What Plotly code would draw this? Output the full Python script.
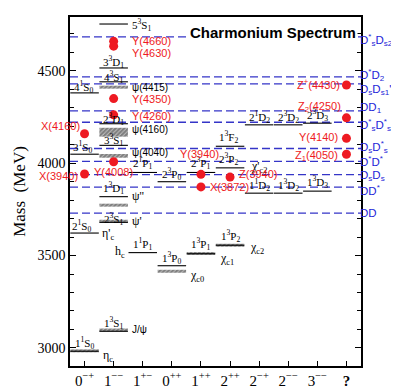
import plotly.graph_objects as go

# ---------------- data ----------------
jpc_labels = ["0<sup>−+</sup>", "1<sup>−−</sup>", "1<sup>+−</sup>", "0<sup>++</sup>", "1<sup>++</sup>",
              "2<sup>++</sup>", "2<sup>−+</sup>", "2<sup>−−</sup>", "3<sup>−−</sup>", "<b>?</b>"]

# predicted (potential-model) levels
pred_col = [0, 0, 0, 0, 1, 1, 1, 1, 1, 1, 1, 1, 2, 2, 3, 3, 4, 4, 5, 5, 5, 6, 6, 7, 7, 8, 8]
pred_mass = [2982, 3622, 4049, 4381, 3090, 3680, 3819, 4097, 4214, 4441, 4516, 4754,
             3516, 3950, 3445, 3900, 3510, 3950, 3556, 3975, 4092, 3838, 4208, 3838, 4208, 3849, 4217]
pred_name = ["1<sup>1</sup>S<sub>0</sub>", "2<sup>1</sup>S<sub>0</sub>", "3<sup>1</sup>S<sub>0</sub>", "4<sup>1</sup>S<sub>0</sub>",
             "1<sup>3</sup>S<sub>1</sub>", "2<sup>3</sup>S<sub>1</sub>", "1<sup>3</sup>D<sub>1</sub>", "3<sup>3</sup>S<sub>1</sub>",
             "2<sup>3</sup>D<sub>1</sub>", "4<sup>3</sup>S<sub>1</sub>", "3<sup>3</sup>D<sub>1</sub>", "5<sup>3</sup>S<sub>1</sub>",
             "1<sup>1</sup>P<sub>1</sub>", "2<sup>1</sup>P<sub>1</sub>", "1<sup>3</sup>P<sub>0</sub>", "2<sup>3</sup>P<sub>0</sub>",
             "1<sup>3</sup>P<sub>1</sub>", "2<sup>3</sup>P<sub>1</sub>", "1<sup>3</sup>P<sub>2</sub>", "2<sup>3</sup>P<sub>2</sub>",
             "1<sup>3</sup>F<sub>2</sub>", "1<sup>1</sup>D<sub>2</sub>", "2<sup>1</sup>D<sub>2</sub>", "1<sup>3</sup>D<sub>2</sub>",
             "2<sup>3</sup>D<sub>2</sub>", "1<sup>3</sup>D<sub>3</sub>", "2<sup>3</sup>D<sub>3</sub>"]

# observed conventional charmonia (hatched bands)
exp_col = [0, 1, 1, 1, 1, 1, 1, 3, 4, 5]
exp_mass = [2984, 3097, 3686, 3773, 4040, 4168, 4412, 3415, 3511, 3556]
exp_band = [16, 16, 16, 16, 20, 48, 16, 16, 16, 16]

# state names
name_text = ["η<sub>c</sub>", "J/ψ", "ψ'", "ψ''", "ψ(4040)", "ψ(4160)", "ψ(4415)",
             "χ<sub>c0</sub>", "χ<sub>c1</sub>", "χ<sub>c2</sub>", "η'<sub>c</sub>", "h<sub>c</sub>", "χ'<sub>c2</sub>"]
name_col = [0, 1, 1, 1, 1, 1, 1, 3, 4, 5, 0, 2, 5]
name_mass = [2984, 3097, 3686, 3773, 4040, 4168, 4412, 3415, 3511, 3556, 3622, 3516, 3975]

# XYZ states
dot_col = [0, 0, 1, 1, 1, 1, 1, 4, 4, 5, 9, 9, 9, 9]
dot_mass = [4160, 3942, 4660, 4634, 4350, 4262, 4008, 3940, 3872, 3925, 4424, 4246, 4135, 4049]
dot_name = ["X(4160)", "X(3940)", "Y(4660)", "Y(4630)", "Y(4350)", "Y(4260)", "Y(4008)", "Y(3940)",
            "X(3872)", "Z(3940)", "Z<sup>+</sup>(4430)", "Z<sub>2</sub>(4250)", "Y(4140)", "Z<sub>1</sub>(4050)"]

# open-charm thresholds
thr_mass = [4684, 4468, 4430, 4284, 4222, 4080, 4010, 3938, 3871, 3730]
thr_name = ["D<sup>*</sup><sub>s</sub>D<sub>s2</sub>", "D<sup>*</sup>D<sub>2</sub>", "D<sub>s</sub>D<sub>s1</sub>'",
            "DD<sub>1</sub>", "D<sup>*</sup><sub>s</sub>D<sup>*</sup><sub>s</sub>", "D<sub>s</sub>D<sup>*</sup><sub>s</sub>",
            "D<sup>*</sup>D<sup>*</sup>", "D<sub>s</sub>D<sub>s</sub>", "DD<sup>*</sup>", "DD"]

# ---------------- styling ----------------
XR = [-0.5, 9.5]
YR = [2902, 4792]
HALF = 0.49
SERIF = "Liberation Serif"
SANS = "Liberation Sans"
BLUE_LINE = "#3535c8"
BLUE_TXT = "#2424d8"
RED = "#ee1a22"

# label pixel offsets (dx, dy) for level labels
pred_off = {1: (-3, 7), 2: (-2, 7), 3: (-1, 6), 5: (0, 3), 6: (0, 9), 7: (0, 5), 8: (0, 5),
            9: (0, 5), 10: (0, 6), 12: (0, 9), 13: (0, 9), 16: (0, 10), 17: (0, 9),
            18: (0, 9), 19: (-2, 9), 20: (-2, 9), 25: (0, 9), 26: (0, 8)}
# name placement: (xanchor, dx, dy)
name_pos = [("left", 2, -5), ("left", 2, 0), ("left", 2, 0), ("left", 2, 9), ("left", 2, 3),
            ("left", 2, 3), ("left", 2, 0), ("left", 2, -5), ("left", 2, -5), ("left", 3, -3),
            ("left", 1, -1), ("right", -1, 1), ("left", 4, 1)]
name_font = [SERIF, SANS, SERIF, SERIF, SANS, SANS, SANS, SERIF, SERIF, SERIF, SERIF, SERIF, SERIF]
dot_pos = [("right", -3, 8), ("right", -5, -2), ("left", 16, 0), ("left", 16, -7), ("left", 16, 0),
           ("left", 16, -1), ("center", 0, -10), ("center", -1, 20), ("left", 7, 0), ("left", 7, 3),
           ("right", -4, 1), ("right", -3, 11), ("right", -6, 1), ("right", -6, -2)]
thr_dy = [-3, 2, -6, 3, -3, 1, 0, -1, -3, 0]

fig = go.Figure()

# thresholds (dashed)
for m in thr_mass:
    fig.add_trace(go.Scatter(x=XR, y=[m, m], mode="lines",
                             line=dict(color=BLUE_LINE, width=1.3, dash="8px,4px"),
                             hoverinfo="skip"))

# predicted levels
for c, m in zip(pred_col, pred_mass):
    fig.add_trace(go.Scatter(x=[c - HALF, c + HALF], y=[m, m], mode="lines",
                             line=dict(color="black", width=1.1), hoverinfo="skip"))

# observed hatched bands
fig.add_trace(go.Bar(x=exp_col, y=exp_band, base=[m - b / 2 for m, b in zip(exp_mass, exp_band)],
                     width=2 * HALF,
                     marker=dict(color="white", line=dict(width=0),
                                 pattern=dict(shape="/", fgcolor="black", bgcolor="white",
                                              size=3, solidity=0.85)),
                     hoverinfo="skip"))

# XYZ dots
fig.add_trace(go.Scatter(x=dot_col, y=dot_mass, mode="markers",
                         marker=dict(color=RED, size=9, line=dict(width=0)), hoverinfo="skip"))

ann = []
for i, (c, m, t) in enumerate(zip(pred_col, pred_mass, pred_name)):
    if i == 11:
        ann.append(dict(x=c + HALF, y=m, text=t, xanchor="left", yanchor="middle",
                        xshift=2, yshift=-1, showarrow=False,
                        font=dict(family=SERIF, size=11, color="black")))
        continue
    dx, dy = pred_off.get(i, (0, 8))
    ann.append(dict(x=c, y=m, text=t, xanchor="center", yanchor="middle", xshift=dx, yshift=dy,
                    showarrow=False, font=dict(family=SERIF, size=11, color="black")))

for t, c, m, (xa, dx, dy), fam in zip(name_text, name_col, name_mass, name_pos, name_font):
    xv = c + 0.5 if xa == "left" else c - 0.5
    ann.append(dict(x=xv, y=m, text=t, xanchor=xa, yanchor="middle", xshift=dx, yshift=dy,
                    showarrow=False,
                    font=dict(family=fam, size=10 if fam == SANS else 12, color="black")))

for t, c, m, (xa, dx, dy) in zip(dot_name, dot_col, dot_mass, dot_pos):
    ann.append(dict(x=c, y=m, text=t, xanchor=xa, yanchor="middle", xshift=dx, yshift=dy,
                    showarrow=False, font=dict(family=SANS, size=11, color=RED)))

for t, m, dy in zip(thr_name, thr_mass, thr_dy):
    ann.append(dict(x=1, xref="paper", y=m, text=t, xanchor="left", yanchor="middle",
                    xshift=-2, yshift=dy, showarrow=False, borderpad=0,
                    font=dict(family=SANS, size=11.5, color=BLUE_TXT)))

ann.append(dict(x=0.405, xref="paper", y=0.957, yref="paper", text="<b>Charmonium Spectrum</b>",
                xanchor="left", yanchor="middle", showarrow=False, bgcolor="white",
                font=dict(family=SANS, size=15, color="black")))

# the page body has an 8px default margin; size the figure so the plot area lands in place
fig.update_layout(
    width=391, height=383,
    margin=dict(l=62, r=38, t=9, b=25, autoexpand=False),
    paper_bgcolor="white", plot_bgcolor="white",
    showlegend=False, barmode="overlay",
    annotations=ann,
    xaxis=dict(range=XR, tickvals=list(range(len(jpc_labels))), ticktext=jpc_labels,
               ticks="inside", ticklen=5, tickcolor="black", showline=True, linecolor="black",
               linewidth=1.5, mirror=True, showgrid=False, zeroline=False, automargin=False,
               tickfont=dict(family=SERIF, size=15, color="black")),
    yaxis=dict(range=YR, tickvals=[3000, 3500, 4000, 4500], ticks="inside", ticklen=6,
               tickcolor="black", showline=True, linecolor="black", linewidth=1.5,
               mirror="allticks", showgrid=False, zeroline=False, automargin=False,
               minor=dict(tickvals=list(range(3000, 4800, 100)), ticks="inside", ticklen=4,
                          tickcolor="black", showgrid=False),
               tickfont=dict(family=SERIF, size=14, color="black"),
               title=dict(text="Mass  (MeV)", standoff=8,
                          font=dict(family=SERIF, size=17, color="black"))),
)

fig.write_html("out.html")
